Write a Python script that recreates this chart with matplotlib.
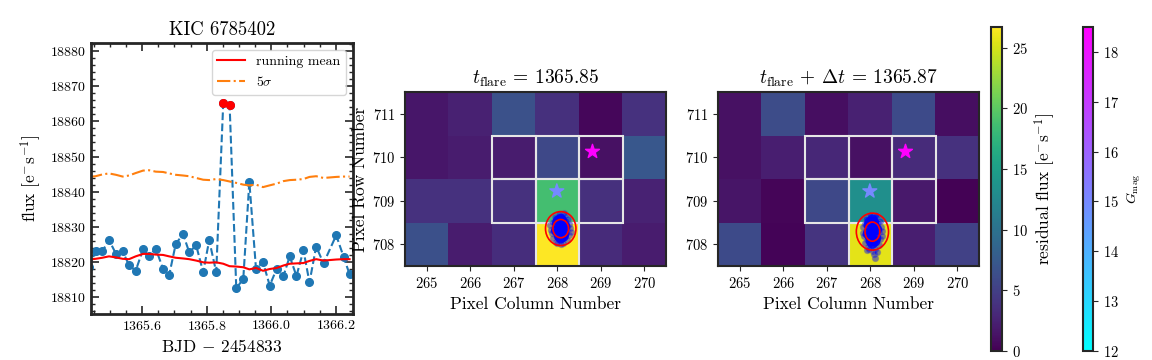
import numpy as np
import matplotlib.pyplot as plt
from matplotlib.patches import Rectangle, Ellipse
from matplotlib.colors import Normalize
import matplotlib.cm as cm

plt.rcParams['font.family'] = ['cmr10', 'DejaVu Serif']
plt.rcParams['mathtext.fontset'] = 'cm'
plt.rcParams['axes.formatter.use_mathtext'] = True
plt.rcParams['axes.unicode_minus'] = False

# light curve (long cadence) around the flare
time = [1365.4355, 1365.4562, 1365.4769, 1365.4976, 1365.5193, 1365.5400, 1365.5597,
        1365.5803, 1365.6031, 1365.6217, 1365.6424, 1365.6652, 1365.6838, 1365.7045,
        1365.7272, 1365.7459, 1365.7676, 1365.7893, 1365.8079, 1365.8296, 1365.8514,
        1365.8710, 1365.8917, 1365.9134, 1365.9321, 1365.9527, 1365.9745, 1365.9952,
        1366.0169, 1366.0376, 1366.0572, 1366.0779, 1366.0996, 1366.1183, 1366.1390,
        1366.1617, 1366.2010, 1366.2238, 1366.2424]
flux = [18818.5, 18823.1, 18823.0, 18826.3, 18822.3, 18823.0, 18819.1, 18817.5,
        18823.6, 18821.6, 18823.8, 18818.0, 18816.2, 18825.2, 18827.9, 18822.8,
        18824.7, 18817.1, 18826.2, 18817.1, 18865.3, 18864.8, 18812.5, 18815.2,
        18842.8, 18818.1, 18819.9, 18813.3, 18818.1, 18816.0, 18821.6, 18816.0,
        18823.3, 18814.2, 18824.4, 18819.6, 18827.6, 18821.5, 18816.5]
run_mean = [18820.7, 18820.9, 18821.2, 18821.6, 18821.3, 18820.9, 18820.8, 18821.6,
            18822.3, 18822.3, 18822.1, 18822.0, 18821.6, 18821.2, 18821.0, 18820.8,
            18820.4, 18819.9, 18819.8, 18819.9, 18819.5, 18818.8, 18818.7, 18818.5,
            18817.9, 18818.3, 18817.5, 18818.0, 18818.3, 18819.0, 18819.5, 18819.6,
            18819.7, 18820.3, 18820.8, 18820.4, 18820.7, 18820.8, 18820.8]
five_sigma = [18844.2, 18844.4, 18844.9, 18845.2, 18844.8, 18844.3, 18844.6, 18845.3,
              18846.0, 18846.1, 18845.7, 18845.6, 18845.2, 18844.8, 18844.6, 18844.4,
              18843.9, 18843.4, 18843.3, 18843.6, 18843.3, 18842.9, 18842.5, 18842.0,
              18841.8, 18842.0, 18841.3, 18841.8, 18842.3, 18843.0, 18843.3, 18843.4,
              18843.6, 18844.2, 18844.4, 18843.9, 18844.2, 18844.3, 18844.3]
flare_time = [1365.8514, 1365.8710]
flare_flux = [18865.3, 18864.8]

# pixel grid: columns 265..270, rows 708..711 (bottom to top)
cols = [265, 266, 267, 268, 269, 270]
rows = [708, 709, 710, 711]
resid_flare = [[6.5, 2.0, 3.5, 26.7, 3.3, 2.0],
               [3.8, 3.8, 3.8, 18.7, 3.7, 2.6],
               [1.6, 2.0, 2.0, 5.8, 1.2, 7.2],
               [1.6, 2.5, 6.6, 3.7, 0.5, 3.8]]
resid_after = [[6.0, 0.3, 4.0, 25.6, 2.2, 5.2],
               [1.5, 0.4, 5.8, 13.3, 1.8, 0.2],
               [1.2, 2.2, 3.0, 1.2, 3.3, 3.8],
               [1.2, 6.2, 1.0, 2.5, 6.0, 1.0]]
aperture = [(267, 709), (268, 709), (269, 709), (267, 710), (268, 710), (269, 710), (268, 708)]

# Gaia neighbours
star_col = [268.81, 267.99]
star_row = [710.13, 709.22]
star_gmag = [18.5, 15.0]

# centroid cloud: offsets from centre, outer scatter and dense core
cen_flare = (268.08, 708.36)
cen_after = (268.05, 708.29)
dx_flare = [0.15, -0.15, 0.18, -0.18, 0.20, -0.20, 0.22, -0.22, 0.10, -0.10, 0.14, -0.14,
            0.05, -0.05, 0.24, -0.24, 0.17, -0.17, 0.00, 0.08, -0.08, 0.12, -0.12, 0.00]
dy_flare = [0.00, 0.02, -0.15, 0.15, 0.10, -0.10, 0.02, -0.03, 0.30, -0.30, -0.26, 0.26,
            -0.33, 0.33, -0.08, 0.08, 0.22, -0.22, -0.36, 0.35, -0.34, 0.18, -0.18, 0.30]
dx_flare_core = [0.00, 0.05, -0.05, 0.08, -0.08, 0.10, -0.10, 0.03, -0.03, 0.06, -0.06,
                 0.00, 0.00, 0.02, -0.02]
dy_flare_core = [0.00, 0.10, -0.10, -0.12, 0.12, 0.05, -0.05, 0.18, -0.18, -0.18, 0.18,
                 0.22, -0.22, 0.05, -0.05]
dx_after = [0.15, -0.15, 0.18, -0.18, 0.20, -0.20, 0.22, -0.22, 0.10, -0.10, 0.14, -0.14,
            0.05, -0.05, 0.22, -0.22, 0.17, -0.17, 0.02, 0.08, -0.08, 0.04, 0.10, -0.12,
            0.06, 0.12, -0.12]
dy_after = [0.00, 0.02, -0.18, 0.18, 0.10, -0.10, 0.02, -0.03, 0.35, -0.35, -0.30, 0.30,
            -0.40, 0.38, -0.10, 0.10, 0.25, -0.25, -0.45, 0.38, -0.40, -0.52, -0.47, -0.42,
            -0.60, 0.20, -0.20]
dx_after_core = [0.00, 0.05, -0.05, 0.08, -0.08, 0.10, -0.10, 0.03, -0.03, 0.06, -0.06,
                 0.00, 0.00, 0.02, -0.02]
dy_after_core = [0.00, 0.12, -0.12, -0.15, 0.15, 0.05, -0.05, 0.22, -0.22, -0.22, 0.22,
                 0.27, -0.27, 0.06, -0.06]
ell_flare = [(0.70, 0.78), (0.36, 0.42)]
ell_after = [(0.74, 0.85), (0.34, 0.44)]

fig = plt.figure(figsize=(11.52, 3.6), dpi=100)
W, H = 1152, 360
dark = '#262626'

# ---- light curve
ax = fig.add_axes([91 / W, 46 / H, 262 / W, 271 / H])
ax.plot(time, flux, '--o', color='C0', ms=5.5)
ax.plot(flare_time, flare_flux, 'o', color='red', ms=5.5)
ax.plot(time, run_mean, '-', color='red', lw=1.5, label='running mean')
ax.plot(time, five_sigma, '-.', color='C1', lw=1.5, label=r'5$\sigma$')
ax.set_xlim(1365.442, 1366.253)
ax.set_ylim(18805.2, 18882.3)
ax.set_xticks([1365.6, 1365.8, 1366.0, 1366.2])
ax.set_yticks([18810, 18820, 18830, 18840, 18850, 18860, 18870, 18880])
ax.minorticks_on()
ax.tick_params(which='both', direction='in', top=True, right=True, labelsize=10, color=dark)
ax.tick_params(which='major', length=6, width=1.2)
ax.tick_params(which='minor', length=3, width=1)
for s in ax.spines.values():
    s.set_linewidth(2)
    s.set_color(dark)
ax.set_xlabel(r'BJD $-$ 2454833', fontsize=12.5)
ax.set_ylabel(r'flux [$\mathrm{e^{-}s^{-1}}$]', fontsize=12.5)
ax.set_title('KIC 6785402', fontsize=13.5)
ax.legend(loc='upper right', fontsize=10)

norm = Normalize(0, 26.7)
gnorm = Normalize(12, 18.5)


def pixel_panel(ax, data, title, cen, dx, dy, dxc, dyc, ells):
    ax.imshow(data, origin='lower', cmap='viridis', norm=norm,
              extent=[cols[0] - 0.5, cols[-1] + 0.5, rows[0] - 0.5, rows[-1] + 0.5],
              aspect='auto')
    for c, r in aperture:
        ax.add_patch(Rectangle((c - 0.5, r - 0.5), 1, 1, fill=False, ec='#e6e6e6', lw=1.5))
    ax.scatter(star_col, star_row, c=star_gmag, cmap='cool', norm=gnorm, marker='*', s=110, zorder=4)
    ax.scatter(np.array(dx) + cen[0], np.array(dy) + cen[1], s=22, c='blue',
               edgecolors='gray', linewidths=0.6, alpha=0.45, zorder=5)
    ax.scatter(np.array(dxc) + cen[0], np.array(dyc) + cen[1], s=60, c='blue',
               edgecolors='none', alpha=0.9, zorder=5)
    for w, h in ells:
        ax.add_patch(Ellipse(cen, w, h, fill=False, ec='red', lw=1.2, zorder=6))
    ax.set_xlim(cols[0] - 0.5, cols[-1] + 0.5)
    ax.set_ylim(rows[0] - 0.5, rows[-1] + 0.5)
    ax.set_xticks(cols)
    ax.set_yticks(rows)
    ax.tick_params(labelsize=10.5, color=dark)
    for s in ax.spines.values():
        s.set_linewidth(1.5)
        s.set_color(dark)
    ax.set_title(title, fontsize=14)
    ax.set_xlabel('Pixel Column Number', fontsize=12.5)


ax2 = fig.add_axes([405 / W, 94 / H, 261 / W, 174 / H])
pixel_panel(ax2, resid_flare, r'$t_{\rm flare}$ = 1365.85', cen_flare,
            dx_flare, dy_flare, dx_flare_core, dy_flare_core, ell_flare)
ax2.set_ylabel('Pixel Row Number', fontsize=12.5)
ax2.yaxis.set_label_coords(-0.14, 0.5)

ax3 = fig.add_axes([718 / W, 94 / H, 261 / W, 174 / H])
pixel_panel(ax3, resid_after, r'$t_{\rm flare}$ + $\Delta t$ = 1365.87', cen_after,
            dx_after, dy_after, dx_after_core, dy_after_core, ell_after)

# ---- colorbars
cax1 = fig.add_axes([991 / W, 9 / H, 11 / W, 324 / H])
cb1 = fig.colorbar(cm.ScalarMappable(norm=norm, cmap='viridis'), cax=cax1)
cb1.set_ticks([0, 5, 10, 15, 20, 25])
cb1.set_label(r'residual flux [$\mathrm{e^{-}s^{-1}}$]', fontsize=12.5)
cb1.ax.tick_params(labelsize=10.5, color=dark)
cb1.outline.set_linewidth(1.5)
cb1.outline.set_edgecolor(dark)

cax2 = fig.add_axes([1083 / W, 9 / H, 10 / W, 324 / H])
cb2 = fig.colorbar(cm.ScalarMappable(norm=gnorm, cmap='cool'), cax=cax2)
cb2.set_ticks([12, 13, 14, 15, 16, 17, 18])
cb2.set_label(r'$G_{\rm mag}$', fontsize=10)
cb2.ax.tick_params(labelsize=10.5, color=dark)
cb2.outline.set_linewidth(1.5)
cb2.outline.set_edgecolor(dark)

fig.savefig('out.png', dpi=100)
